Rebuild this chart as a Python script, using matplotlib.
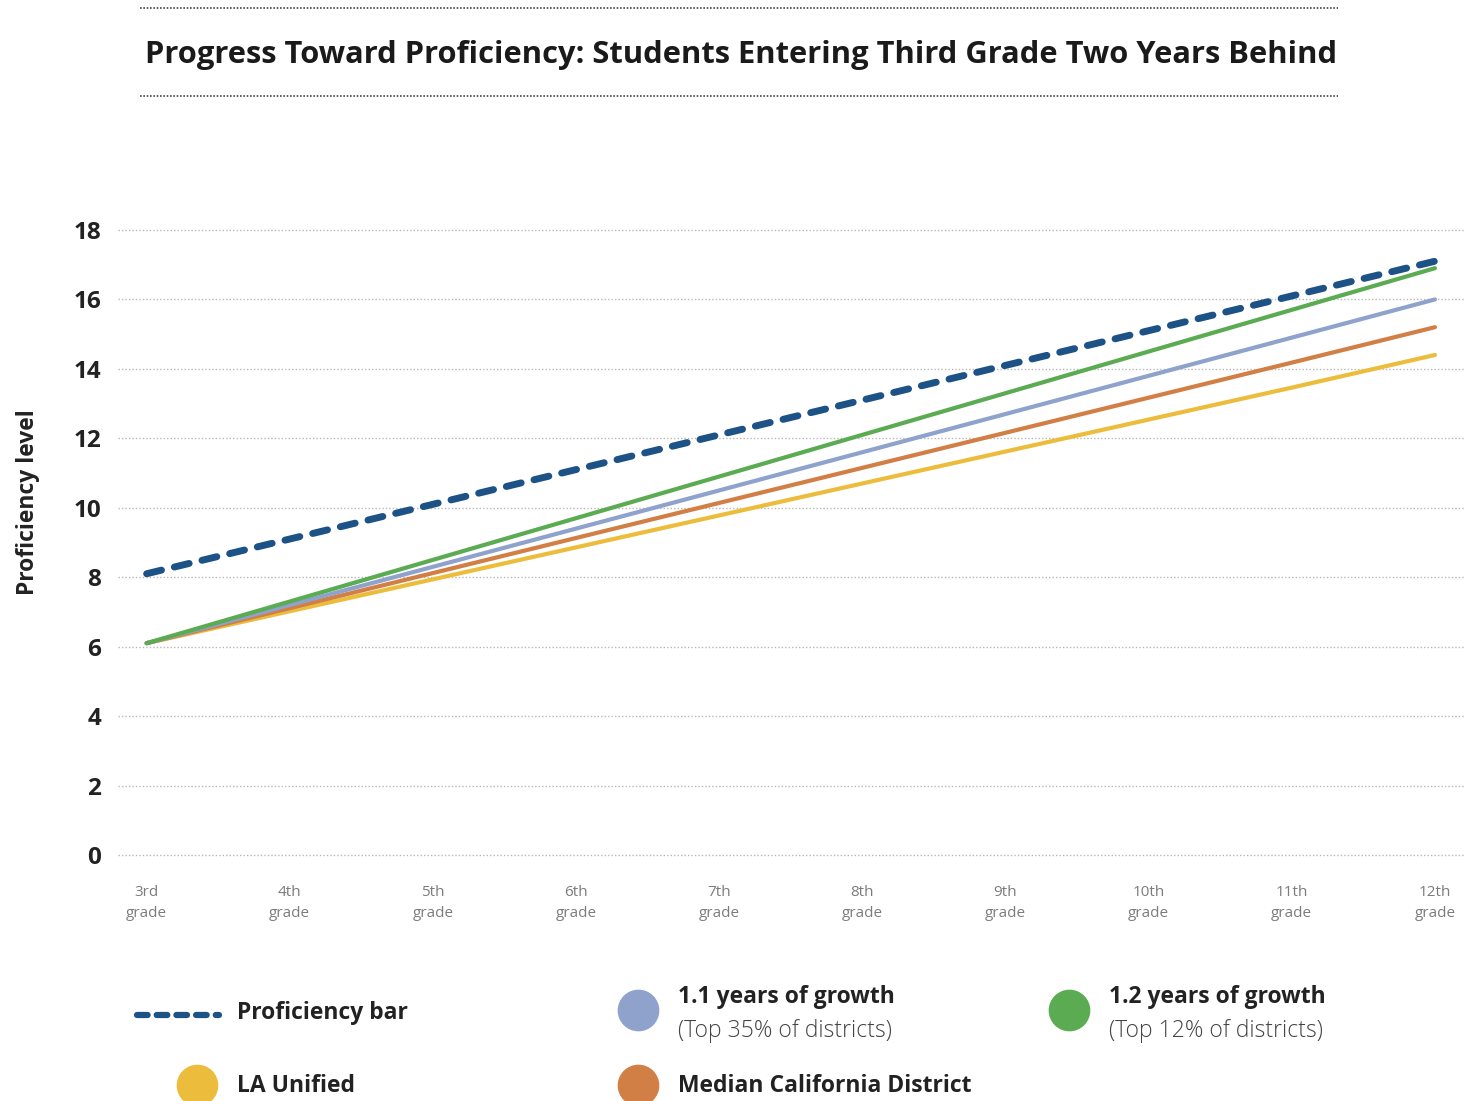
import matplotlib
matplotlib.use('Agg')
import matplotlib.pyplot as plt
from matplotlib.lines import Line2D

plt.rcParams['font.family'] = ['Open Sans', 'DejaVu Sans']

# data
grades = ['3rd\ngrade', '4th\ngrade', '5th\ngrade', '6th\ngrade', '7th\ngrade',
          '8th\ngrade', '9th\ngrade', '10th\ngrade', '11th\ngrade', '12th\ngrade']
proficiency_bar = [8.1, 9.1, 10.1, 11.1, 12.1, 13.1, 14.1, 15.1, 16.1, 17.1]
growth_12 = [6.1, 7.3, 8.5, 9.7, 10.9, 12.1, 13.3, 14.5, 15.7, 16.9]
growth_11 = [6.1, 7.2, 8.3, 9.4, 10.5, 11.6, 12.7, 13.8, 14.9, 16.0]
median_ca = [6.1, 7.11, 8.12, 9.13, 10.14, 11.15, 12.16, 13.17, 14.18, 15.2]
la_unified = [6.1, 7.02, 7.94, 8.86, 9.78, 10.7, 11.62, 12.54, 13.46, 14.4]

c_bar = '#1d5286'
c_green = '#5aab52'
c_blue = '#8ea2cc'
c_orange = '#d17f45'
c_yellow = '#ecbd3c'

W, H = 1465, 1101
fig = plt.figure(figsize=(W / 100, H / 100), dpi=100)

def fx(px):
    return px / W

def fy(py):
    return 1 - py / H

# axes placed so that 0..18 matches the picture
ax = fig.add_axes([fx(118), fy(858.5), fx(1465) - fx(118), fy(226.5) - fy(858.5)])
x = list(range(len(grades)))

ax.plot(x, la_unified, color=c_yellow, lw=3, solid_capstyle='round', zorder=3)
ax.plot(x, median_ca, color=c_orange, lw=3, solid_capstyle='round', zorder=3)
ax.plot(x, growth_11, color=c_blue, lw=3, solid_capstyle='round', zorder=3)
ax.plot(x, growth_12, color=c_green, lw=3, solid_capstyle='round', zorder=3)
ax.plot(x, proficiency_bar, color=c_bar, lw=5, linestyle=(0, (2.2, 1.9)),
        dash_capstyle='round', zorder=4)

ax.set_xlim(-0.2, 9.21)
ax.set_ylim(-0.1, 18.1)
ax.set_yticks(range(0, 19, 2))
ax.set_xticks(x)
ax.set_xticklabels(grades, fontsize=11, color='#7c7c7c', linespacing=1.6)
for lab in ax.get_yticklabels():
    lab.set_fontsize(17.5)
    lab.set_fontweight('bold')
    lab.set_color('#222222')
ax.tick_params(axis='both', length=0)
ax.tick_params(axis='y', pad=12)
ax.tick_params(axis='x', pad=19)
ax.grid(axis='y', color='#b8b8b8', linestyle=(0, (1, 1.5)), lw=1)
for s in ax.spines.values():
    s.set_visible(False)
ax.set_ylabel('Proficiency level', fontsize=16.5, fontweight='bold', color='#222222')
ax.yaxis.set_label_coords(-0.058, 0.564)

# title with dotted rules
fig.text(fx(145), fy(55), 'Progress Toward Proficiency: Students Entering Third Grade Two Years Behind',
         ha='left', va='center', fontsize=22.2, fontweight='bold', color='#1a1a1a')
for yy in (8, 96):
    fig.add_artist(Line2D([fx(140), fx(1338)], [fy(yy), fy(yy)], color='#444444',
                          lw=1.2, linestyle=(0, (1, 1))))

# legend
fig.add_artist(Line2D([fx(137), fx(219)], [fy(1015), fy(1015)], color=c_bar, lw=4.5,
                      linestyle=(0, (1.7, 1.45)), dash_capstyle='round'))
fig.text(fx(237), fy(1013), 'Proficiency bar', fontsize=16.5, fontweight='bold', va='center', color='#222222')

items = [
    (638, 1010, c_blue, '1.1 years of growth', '(Top 35% of districts)'),
    (1069, 1010, c_green, '1.2 years of growth', '(Top 12% of districts)'),
]
for cx, cy, col, l1, l2 in items:
    fig.add_artist(Line2D([fx(cx)], [fy(cy)], marker='o', markersize=29, color=col, lw=0))
    fig.text(fx(cx + 40), fy(997), l1, fontsize=16.5, fontweight='bold', va='center', color='#222222')
    fig.text(fx(cx + 40), fy(1031), l2, fontsize=16.5, fontweight='light', va='center', color='#444444')

items2 = [
    (197, 1085, c_yellow, 'LA Unified'),
    (638, 1085, c_orange, 'Median California District'),
]
for cx, cy, col, l1 in items2:
    fig.add_artist(Line2D([fx(cx)], [fy(cy)], marker='o', markersize=29, color=col, lw=0))
    fig.text(fx(cx + 40), fy(1086), l1, fontsize=16.5, fontweight='bold', va='center', color='#222222')

plt.savefig('out.png', dpi=100)
